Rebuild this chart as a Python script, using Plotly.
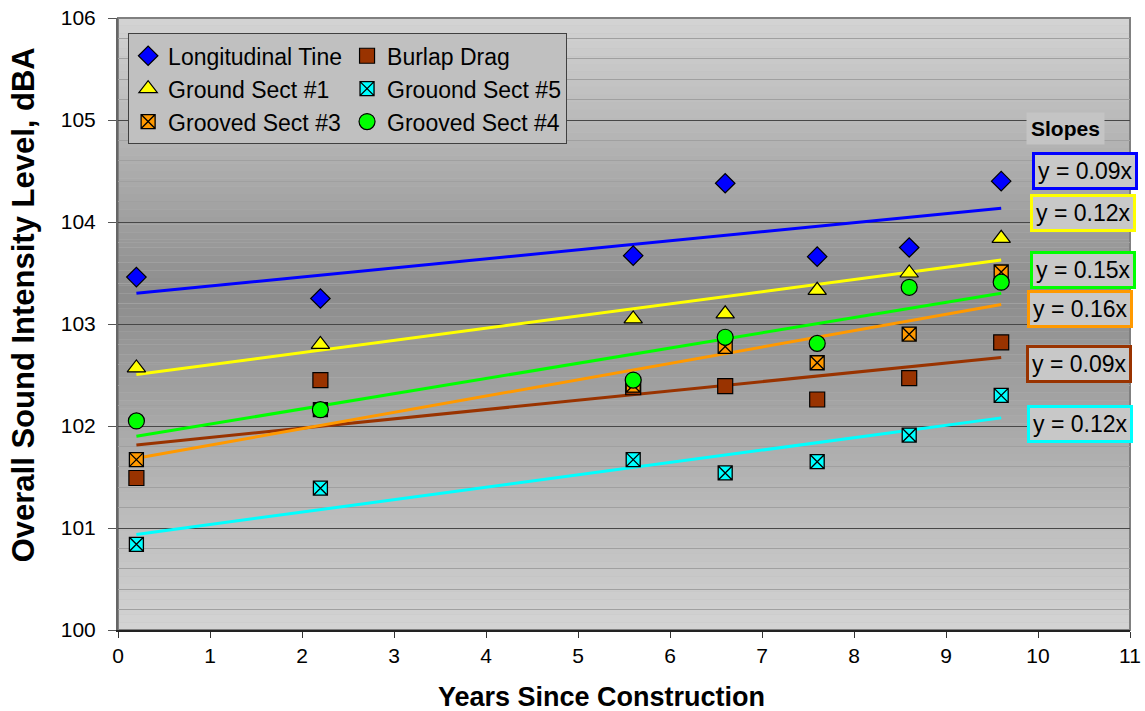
import numpy as np
import plotly.graph_objects as go

# years since construction (same for every section)
years = [0.2, 2.2, 5.6, 6.6, 7.6, 8.6, 9.6]

# overall sound intensity level, dBA
long_tine = [103.46, 103.25, 103.67, 104.38, 103.66, 103.75, 104.40]
burlap_drag = [101.49, 102.45, 102.38, 102.39, 102.26, 102.47, 102.82]
ground_1 = [102.57, 102.80, 103.05, 103.10, 103.33, 103.50, 103.84]
ground_5 = [100.84, 101.39, 101.67, 101.54, 101.65, 101.91, 102.30]
grooved_3 = [101.67, 102.16, 102.40, 102.78, 102.62, 102.90, 103.51]
grooved_4 = [102.05, 102.16, 102.45, 102.87, 102.81, 103.36, 103.41]

slope_labels = ['y = 0.09x', 'y = 0.12x', 'y = 0.15x', 'y = 0.16x', 'y = 0.09x', 'y = 0.12x']

# name, values, marker symbol, fill colour, line colour, legend column
series = [
    ('Longitudinal Tine', long_tine, 'diamond', '#0000ff', '#0000ff', 'c1'),
    ('Burlap Drag', burlap_drag, 'square', '#993300', '#993300', 'c2'),
    ('Ground Sect #1', ground_1, 'triangle-up', '#ffff00', '#ffff00', 'c1'),
    ('Grouond Sect #5', ground_5, 'square-x', '#00ffff', '#00ffff', 'c2'),
    ('Grooved Sect #3', grooved_3, 'square-x', '#ff9900', '#ff9900', 'c1'),
    ('Grooved Sect #4', grooved_4, 'circle', '#00ff00', '#00ff00', 'c2'),
]
sizes = {'diamond': 15, 'square': 15, 'triangle-up': 16, 'square-x': 14, 'circle': 16}

fig = go.Figure()

# trend lines first so markers sit on top
for name, vals, sym, col, lcol, grp in series:
    k, b = np.polyfit(years, vals, 1)
    xs = np.array([years[0], years[-1]])
    fig.add_trace(go.Scatter(x=xs, y=k * xs + b, mode='lines',
                             line=dict(color=lcol, width=3),
                             showlegend=False, hoverinfo='skip'))

for name, vals, sym, col, lcol, grp in series:
    lw = 1.3 if sym == 'square-x' else 1.2
    fig.add_trace(go.Scatter(x=years, y=vals, mode='markers', name=name,
                             legendgroup=grp,
                             marker=dict(symbol=sym, size=sizes[sym], color=col,
                                         line=dict(color='#000000', width=lw))))

# grey gradient background (light at top/bottom, dark in the middle)
n_bands = 80
for i in range(n_bands):
    t = (i + 0.5) / n_bands
    c = 0.55
    d = abs(t - c) / (c if t < c else 1 - c)
    g = int(round(140 + (212 - 140) * d))
    fig.add_shape(type='rect', xref='paper', yref='paper',
                  x0=0, x1=1, y0=i / n_bands, y1=(i + 1) / n_bands,
                  fillcolor=f'rgb({g},{g},{g})', line_width=0, layer='below')
fig.add_shape(type='rect', xref='paper', yref='paper', x0=0, x1=1, y0=0, y1=1,
              line=dict(color='#808080', width=2), layer='below')

# slope boxes
fig.add_annotation(x=0.936, y=0.820, xref='paper', yref='paper', text='<b>Slopes</b>',
                   xanchor='center', yanchor='middle',
                   showarrow=False, bgcolor='#c4c4c4', borderpad=4,
                   font=dict(family='Liberation Sans, Arial', size=21, color='#000'))
box_pos = [(0.956, 0.750), (0.954, 0.681), (0.954, 0.589),
           (0.951, 0.524), (0.950, 0.435), (0.951, 0.337)]
box_cols = ['#0000ff', '#ffff00', '#00ff00', '#ff9900', '#993300', '#00ffff']
for (bx, by), txt, bc in zip(box_pos, slope_labels, box_cols):
    fig.add_annotation(x=bx, y=by, xref='paper', yref='paper', text=txt,
                       xanchor='center', yanchor='middle',
                       showarrow=False, bgcolor='#c8c8c8', bordercolor=bc,
                       borderwidth=3, borderpad=3,
                       font=dict(family='Liberation Sans, Arial', size=23, color='#000'))

# axis titles (placed as in the original, a little off-centre)
fig.add_annotation(x=0.478, y=-0.11, xref='paper', yref='paper',
                   text='<b>Years Since Construction</b>', showarrow=False,
                   xanchor='center', yanchor='middle',
                   font=dict(family='Liberation Sans, Arial', size=27, color='#000'))
fig.add_annotation(x=-0.093, y=0.532, xref='paper', yref='paper',
                   text='<b>Overall Sound Intensity Level, dBA</b>', showarrow=False,
                   textangle=-90, xanchor='center', yanchor='middle',
                   font=dict(family='Liberation Sans, Arial', size=31, color='#000'))

fig.update_layout(
    width=1145, height=711,
    margin=dict(l=118, r=15, t=18, b=81),
    paper_bgcolor='white', plot_bgcolor='#bdbdbd',
    font=dict(family='Liberation Sans, Arial', color='#000'),
    legend=dict(orientation='h', traceorder='grouped', x=0.01, y=0.975,
                xanchor='left', yanchor='top', bgcolor='#c0c0c0',
                bordercolor='#404040', borderwidth=1,
                font=dict(size=23, color='#000')),
    showlegend=True,
)
fig.update_xaxes(range=[0, 11], dtick=1, showgrid=False, zeroline=False,
                 automargin=False,
                 ticks='outside', ticklen=6, tickcolor='#333',
                 showline=True, linecolor='#222', linewidth=2,
                 tickfont=dict(size=21))
fig.update_yaxes(range=[100, 106], dtick=1, zeroline=False,
                 automargin=False,
                 showgrid=True, gridcolor='#474747', gridwidth=1.2,
                 minor=dict(dtick=0.2, showgrid=True, gridcolor='#a0a0a0', gridwidth=1),
                 ticks='outside', ticklen=8, tickcolor='#555',
                 showline=True, linecolor='#666', linewidth=2,
                 tickfont=dict(size=21), ticklabelstandoff=8)

# drop the default page margin so the figure sits at the window's corner
fig.write_html('out.html', config={'displayModeBar': False},
               post_script="document.body.style.margin='0';")
